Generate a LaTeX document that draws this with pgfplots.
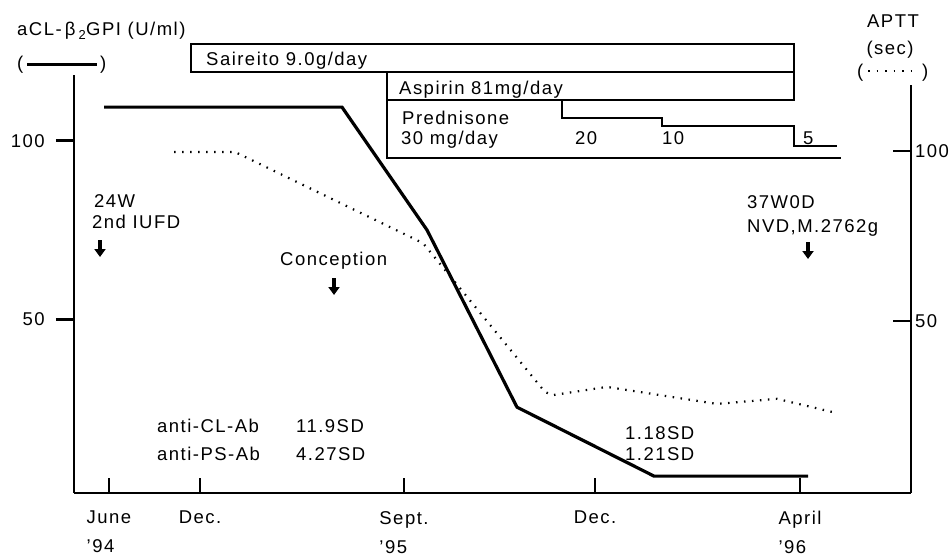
\documentclass[border=0pt]{standalone}
\usepackage{fontspec}
\setmainfont{Liberation Sans}[LetterSpace=8]
\usepackage{pgfplots}
\pgfplotsset{compat=1.18}
\usetikzlibrary{arrows.meta}

\begin{document}
\fontsize{18.5bp}{22bp}\selectfont
\begin{tikzpicture}
% ---------- left axis: aCL-beta2GPI (U/ml), solid line ----------
\begin{axis}[at={(74bp,64bp)}, anchor=south west, scale only axis,
  width=837bp, height=418bp,
  xmin=74, xmax=911, ymin=1.37, ymax=118.4,
  axis y line*=left, hide x axis,
  axis line style={line width=2.6bp, black},
  ytick={50,100}, tick align=outside, major tick length=18bp,
  tick style={line width=2.6bp, black},
  yticklabel style={anchor=east, inner sep=0pt, xshift=-11bp},
  /pgf/number format/assume math mode=true,
  clip=false]
\addplot[line width=3.2bp, black] coordinates {
  (104,109.4) (342,109.4) (427,75.0) (517,25.4) (654,6.1) (808,6.1)};
\end{axis}
% ---------- bottom axis: time ----------
\begin{axis}[at={(74bp,64bp)}, anchor=south west, scale only axis,
  width=837bp, height=418bp,
  xmin=74, xmax=911, ymin=0, ymax=1,
  axis x line*=bottom, hide y axis,
  axis line style={line width=2.6bp, black},
  xtick={109,200,404,595,800},
  xticklabels={{June\\'94},{Dec.},{Sept.\\'95},{Dec.},{April\\'96}},
  tick align=inside, major tick length=15bp,
  tick style={line width=2.6bp, black},
  xticklabel style={anchor=north, align=left, inner sep=0pt, yshift=-18bp,
    font=\fontsize{18.5bp}{29bp}\selectfont},
  clip=false]
\end{axis}
% ---------- right axis: APTT (sec), dotted line ----------
\begin{axis}[at={(74bp,64bp)}, anchor=south west, scale only axis,
  width=837bp, height=408bp,
  xmin=74, xmax=911, ymin=-0.6, ymax=119.4,
  axis y line*=right, hide x axis,
  axis line style={line width=2.6bp, black},
  ytick={50,100}, tick align=inside, major tick length=18bp,
  tick style={line width=2.6bp, black},
  yticklabel style={anchor=west, inner sep=0pt, xshift=4bp},
  /pgf/number format/assume math mode=true,
  clip=false]
\addplot[line width=2.2bp, black, dash pattern=on 1.5bp off 6.5bp] coordinates {
  (174,99.7) (235,99.7) (423,72.9) (545,29.1) (553,28.2) (607,30.6)
  (717,25.6) (777,27.1) (837,22.9)};
\end{axis}
% ---------- annotations (picture coordinates) ----------
\begin{axis}[at={(0,0)}, anchor=south west, scale only axis,
  width=952bp, height=557bp,
  xmin=0, xmax=952, ymin=0, ymax=557, y dir=reverse,
  hide axis, clip=false]
% treatment boxes
\draw[line width=2.2bp] (191,44) rectangle (794,72);
\draw[line width=2.2bp] (387,72) -- (387,158) -- (841,158);
\draw[line width=2.2bp] (387,100) -- (794,100) -- (794,72);
\addplot[line width=2.2bp, black] coordinates {
  (562,100) (562,118) (662,118) (662,126) (794,126) (794,146) (837,146)};
% texts
\node[anchor=base west, inner sep=0pt] at (17,36) {aCL-\,β\,\textsubscript{2}GPI (U/ml)};
\node[anchor=base west, inner sep=0pt] at (17,70) {(};
\draw[line width=2.4bp] (27,64.7) -- (97,64.7);
\node[anchor=base west, inner sep=0pt] at (100,70) {)};
\node[anchor=base, inner sep=0pt] at (893,28) {APTT};
\node[anchor=base, inner sep=0pt] at (890,55) {(sec)};
\node[anchor=base west, inner sep=0pt] at (857,78) {(};
\draw[line width=2bp, dash pattern=on 1.5bp off 7bp] (868,71) -- (918,71);
\node[anchor=base west, inner sep=0pt] at (922,78) {)};
\node[anchor=base west, inner sep=0pt] at (206,66) {Saireito 9.0g/day};
\node[anchor=base west, inner sep=0pt] at (399,95) {Aspirin 81mg/day};
\node[anchor=base west, inner sep=0pt] at (402,125) {Prednisone};
\node[anchor=base west, inner sep=0pt] at (401,145) {30 mg/day};
\node[anchor=base west, inner sep=0pt] at (575,145) {20};
\node[anchor=base west, inner sep=0pt] at (662,145) {10};
\node[anchor=base west, inner sep=0pt] at (803,145) {5};
\node[anchor=base west, inner sep=0pt] at (94,207) {24W};
\node[anchor=base west, inner sep=0pt] at (92,228) {2nd IUFD};
\node[anchor=base west, inner sep=0pt] at (280,265) {Conception};
\node[anchor=base west, inner sep=0pt] at (747,208) {37W0D};
\node[anchor=base west, inner sep=0pt] at (747,232) {NVD,M.2762g};
\node[anchor=base west, inner sep=0pt] at (157,432) {anti-CL-Ab};
\node[anchor=base west, inner sep=0pt] at (296,432) {11.9SD};
\node[anchor=base west, inner sep=0pt] at (157,460) {anti-PS-Ab};
\node[anchor=base west, inner sep=0pt] at (296,460) {4.27SD};
\node[anchor=base west, inner sep=0pt] at (625,439) {1.18SD};
\node[anchor=base west, inner sep=0pt] at (625,460) {1.21SD};
% arrows
\draw[line width=3.5bp, -{Triangle[width=11bp,length=8bp]}] (100,240) -- (100,257);
\draw[line width=3.5bp, -{Triangle[width=11bp,length=8bp]}] (334,278) -- (334,295);
\draw[line width=3.5bp, -{Triangle[width=11bp,length=8bp]}] (808,242) -- (808,259);
\end{axis}
\pgfresetboundingbox
\path[use as bounding box] (0,0) rectangle (952bp,557bp);
\end{tikzpicture}
\end{document}
